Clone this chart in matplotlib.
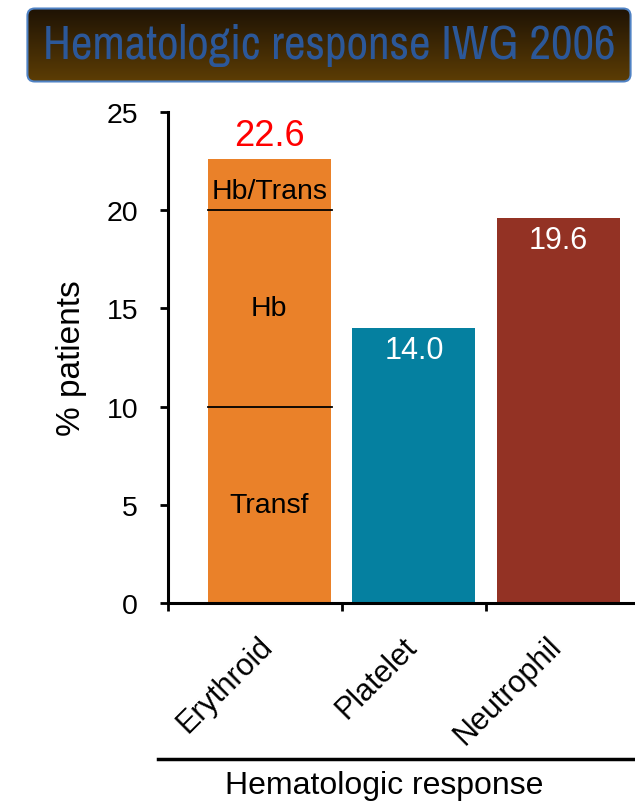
import numpy as np
import matplotlib
matplotlib.use("Agg")
import matplotlib.pyplot as plt
from matplotlib.patches import FancyBboxPatch
from matplotlib.lines import Line2D
from matplotlib.transforms import ScaledTranslation
from matplotlib import font_manager

# Data
categories = ["Erythroid", "Platelet", "Neutrophil"]
totals = [22.6, 14.0, 19.6]
erythroid_segments = [10.0, 10.0, 2.6]
erythroid_labels = ["Transf", "Hb", "Hb/Trans"]
colors = ["#ea8129", "#0580a0", "#933224"]
yticks = [0, 5, 10, 15, 20, 25]

plt.rcParams["font.family"] = ["Liberation Sans", "DejaVu Sans"]

W, H = 635, 803
fig = plt.figure(figsize=(W / 100, H / 100), dpi=100)

# Pick a regular narrow face for the banner if one is installed (Liberation Narrow first)
def _is_regular(f):
    fn = f.fname.lower()
    if any(k in fn for k in ("bold", "italic", "oblique", "black", "semibold", "medium")):
        return False
    return f.weight in (400, "normal", "regular") and f.style == "normal"

candidates = [f for f in font_manager.fontManager.ttflist
              if _is_regular(f) and any(k in (f.name + " " + f.fname).lower()
                                        for k in ("narrow", "condensed"))]
candidates.sort(key=lambda f: 0 if "narrow" in (f.name + f.fname).lower() else 1)
title_kw = dict(fontsize=34)
if candidates:
    title_kw["fontproperties"] = font_manager.FontProperties(fname=candidates[0].fname, size=34)

# Title banner with vertical gradient
bx0, bx1, by0, by1 = 25, 633, 8, 84
tax = fig.add_axes([bx0 / W, 1 - by1 / H, (bx1 - bx0) / W, (by1 - by0) / H])
tax.set_axis_off()
tax.set_xlim(0, 1)
tax.set_ylim(0, 1)
top = np.array([0x1c, 0x11, 0x05]) / 255
bot = np.array([0x5e, 0x3e, 0x04]) / 255
t = np.linspace(0, 1, 256)[:, None]
grad = (top[None, :] * (1 - t) + bot[None, :] * t)[:, None, :]
img = tax.imshow(grad, extent=(0, 1, 0, 1), aspect="auto", origin="upper")
box = FancyBboxPatch((0.004, 0.02), 0.992, 0.96,
                     boxstyle="round,pad=0,rounding_size=0.012",
                     mutation_aspect=(bx1 - bx0) / (by1 - by0),
                     transform=tax.transAxes, facecolor="none",
                     edgecolor="#4f82c4", linewidth=1.5)
tax.add_patch(box)
img.set_clip_path(box)
title = tax.text(0.5, 0.5, "Hematologic response IWG 2006", transform=tax.transAxes,
                 ha="center", va="center", color="#2c5899", **title_kw)

# Keep the banner title within its box width
fig.canvas.draw()
target = 574
wpx = title.get_window_extent().width
if wpx > target:
    title.set_fontsize(title.get_fontsize() * target / wpx)

# Main bar chart
x0_px, x1_px, y0_px, y1_px = 168, 635, 604, 113
ax = fig.add_axes([x0_px / W, 1 - y0_px / H, (x1_px - x0_px) / W, (y0_px - y1_px) / H])
x = np.arange(len(categories))
width = 0.85

bottom = 0.0
for seg in erythroid_segments:
    ax.bar(x[0], seg, width, bottom=bottom, color=colors[0], linewidth=0)
    bottom += seg
ax.bar(x[1:], totals[1:], width, color=colors[1:], linewidth=0)

# Segment boundaries inside the erythroid bar
cum = np.cumsum(erythroid_segments)
for b in cum[:-1]:
    ax.plot([x[0] - width / 2, x[0] + width / 2 + 0.01], [b, b], color="black", lw=1.3)

# Segment labels
starts = np.concatenate([[0], cum[:-1]])
for s, seg, lab in zip(starts, erythroid_segments, erythroid_labels):
    ypos = s + seg / 2 if seg > 5 else s + seg * 0.38
    ax.text(x[0], ypos, lab, ha="center", va="center", fontsize=20.5, color="black")

# Value labels
ax.text(x[0], totals[0] + 0.3, f"{totals[0]:.1f}", ha="center", va="bottom",
        fontsize=26, color="#ff0000")
for i in (1, 2):
    ax.text(x[i], totals[i] - 1.1, f"{totals[i]:.1f}", ha="center", va="center",
            fontsize=22, color="white")

ax.set_xlim(-0.7, 2.528)
ax.set_ylim(0, 25)
ax.set_yticks(yticks)
ax.set_yticklabels([str(v) for v in yticks])
ax.tick_params(axis="y", length=6, width=2, labelsize=20.5, pad=15.5, direction="out")

ax.set_xticks(x)
ax.set_xticklabels(categories, rotation=45, ha="right", va="top",
                   rotation_mode="anchor", fontsize=22)
ax.tick_params(axis="x", which="major", length=0, pad=25)
ax.set_xticks([-0.7, 0.5, 1.5], minor=True)
ax.tick_params(axis="x", which="minor", length=6, width=2, direction="out")
nudge = ScaledTranslation(-0.12, 0.07, fig.dpi_scale_trans)
for lab in ax.get_xticklabels():
    lab.set_transform(lab.get_transform() + nudge)

for side in ("top", "right"):
    ax.spines[side].set_visible(False)
for side in ("left", "bottom"):
    ax.spines[side].set_linewidth(2.2)

ax.set_ylabel("% patients", fontsize=24, labelpad=14)

# Bottom rule and axis title
fig.add_artist(Line2D([158 / W, 1.0], [1 - 760 / H, 1 - 760 / H],
                      transform=fig.transFigure, color="black", lw=2.5))
fig.text(384 / W, 1 - 786 / H, "Hematologic response", ha="center", va="center",
         fontsize=23)

fig.savefig("out.png", dpi=100)
